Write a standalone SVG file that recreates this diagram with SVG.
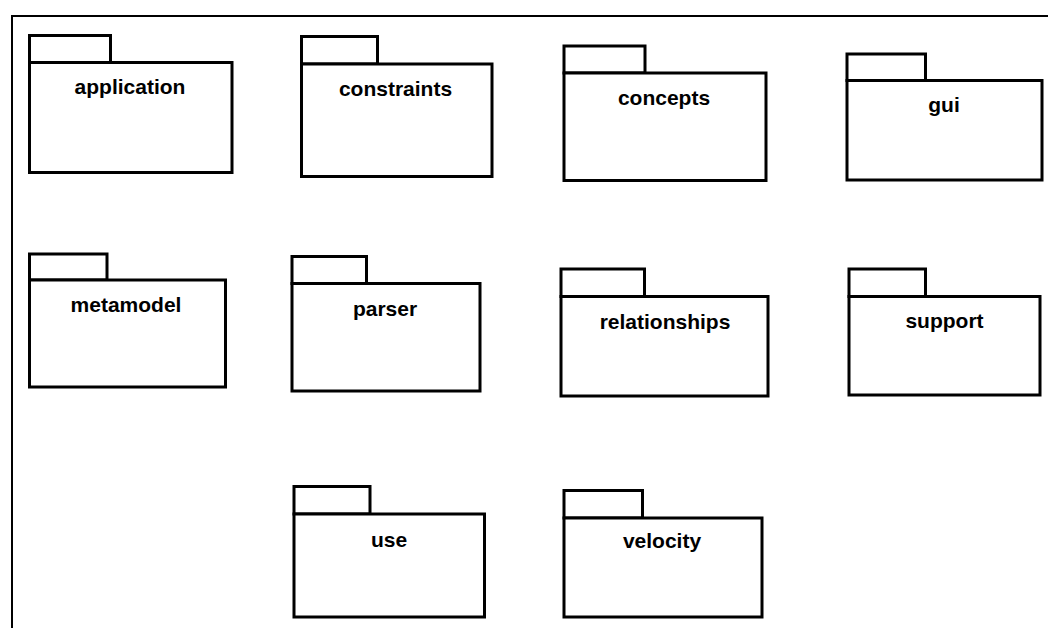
<svg xmlns="http://www.w3.org/2000/svg" width="1048" height="628" viewBox="0 0 1048 628">
<style>
.pk{fill:#fff;stroke:#000;stroke-width:3}
.lb{font-family:"Liberation Sans",Arial,sans-serif;font-weight:bold;font-size:21px;text-anchor:middle;fill:#000}
.fr{fill:none;stroke:#000;stroke-width:2}
</style>
<rect width="1048" height="628" fill="#fff"/>
<path class="fr" d="M12,628 V16 H1048"/>
<g id="connectors"></g>
<g id="application">
<rect class="pk" x="29.5" y="35.5" width="81" height="27"/>
<rect class="pk" x="29.5" y="62.5" width="202.5" height="110"/>
<text class="lb" x="130" y="94">application</text>
</g>
<g id="constraints">
<rect class="pk" x="301.5" y="36.5" width="76" height="27.5"/>
<rect class="pk" x="301.5" y="64" width="190.5" height="112.5"/>
<text class="lb" x="395.5" y="96">constraints</text>
</g>
<g id="concepts">
<rect class="pk" x="564" y="46" width="81" height="27"/>
<rect class="pk" x="564" y="73" width="202" height="107.5"/>
<text class="lb" x="664" y="105">concepts</text>
</g>
<g id="gui">
<rect class="pk" x="847" y="54" width="78.5" height="26.5"/>
<rect class="pk" x="847" y="80.5" width="195" height="99.5"/>
<text class="lb" x="944" y="111.5">gui</text>
</g>
<g id="metamodel">
<rect class="pk" x="29.5" y="254" width="77.5" height="26"/>
<rect class="pk" x="29.5" y="280" width="196" height="107"/>
<text class="lb" x="126" y="312">metamodel</text>
</g>
<g id="parser">
<rect class="pk" x="292" y="256.5" width="74.5" height="27"/>
<rect class="pk" x="292" y="283.5" width="188" height="107.5"/>
<text class="lb" x="385" y="316">parser</text>
</g>
<g id="relationships">
<rect class="pk" x="561" y="269" width="83.5" height="27.5"/>
<rect class="pk" x="561" y="296.5" width="207" height="99.5"/>
<text class="lb" x="665" y="329">relationships</text>
</g>
<g id="support">
<rect class="pk" x="849" y="269" width="76.5" height="27.5"/>
<rect class="pk" x="849" y="296.5" width="191" height="98.5"/>
<text class="lb" x="944.5" y="328">support</text>
</g>
<g id="use">
<rect class="pk" x="294" y="486.5" width="76" height="27.5"/>
<rect class="pk" x="294" y="514" width="190.5" height="103"/>
<text class="lb" x="389" y="546.5">use</text>
</g>
<g id="velocity">
<rect class="pk" x="564" y="490.5" width="78.5" height="27.5"/>
<rect class="pk" x="564" y="518" width="198" height="99"/>
<text class="lb" x="662" y="548">velocity</text>
</g>
</svg>
